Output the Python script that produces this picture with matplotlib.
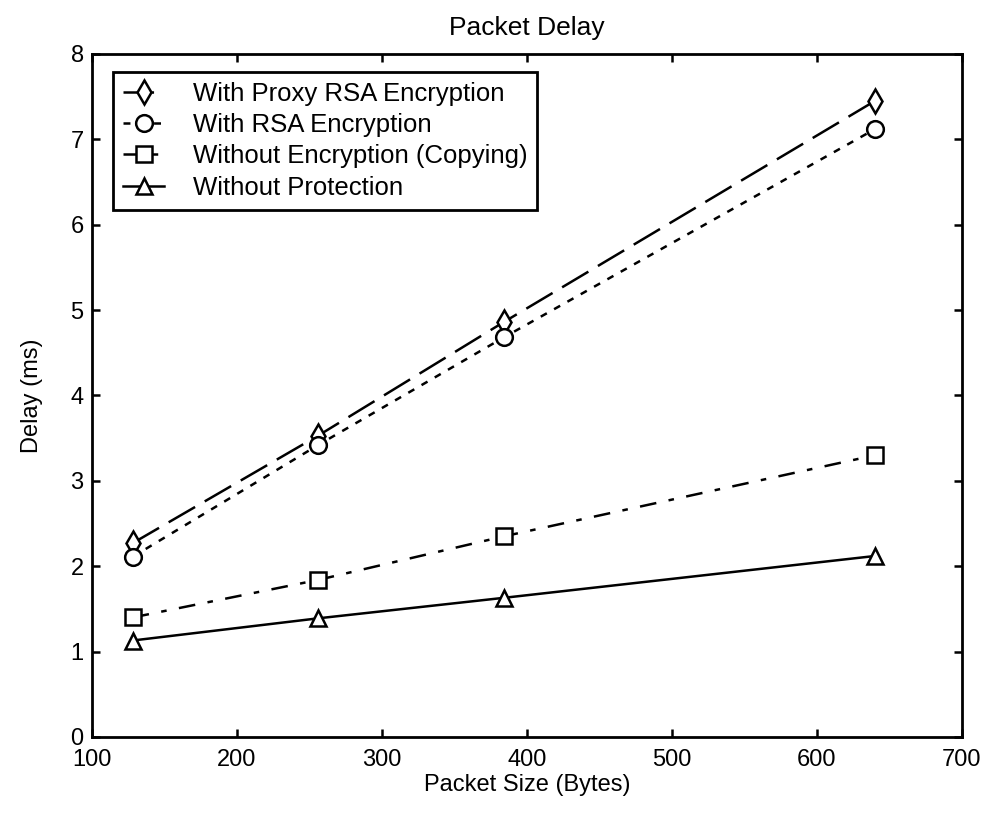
import matplotlib
matplotlib.use("Agg")
import matplotlib.pyplot as plt

plt.rcParams['font.family'] = ['Liberation Sans', 'DejaVu Sans']
plt.rcParams['lines.scale_dashes'] = False

packet_size = [128, 256, 384, 640]
proxy_rsa = [2.27, 3.53, 4.86, 7.45]
rsa = [2.11, 3.42, 4.68, 7.12]
copying = [1.40, 1.84, 2.35, 3.30]
no_protection = [1.13, 1.39, 1.63, 2.12]

labels = ["With Proxy RSA Encryption", "With RSA Encryption",
          "Without Encryption (Copying)", "Without Protection"]
x_ticks = [100, 200, 300, 400, 500, 600, 700]
y_ticks = [0, 1, 2, 3, 4, 5, 6, 7, 8]

fig = plt.figure(figsize=(9.84, 8.14), dpi=100)
ax = fig.add_axes([0.0935, 0.0946, 0.8841, 0.8391])

lw = 1.8
ms = 12
ax.plot(packet_size, proxy_rsa, color='black', lw=lw, linestyle=(0, (22, 8)),
        marker='d', ms=ms, mfc='white', mew=1.8, label=labels[0])
ax.plot(packet_size, rsa, color='black', lw=lw, linestyle=(0, (5, 6)),
        marker='o', ms=ms, mfc='white', mew=1.8, label=labels[1])
ax.plot(packet_size, copying, color='black', lw=lw, linestyle=(0, (12, 9, 4, 9)),
        marker='s', ms=ms, mfc='white', mew=1.8, label=labels[2])
ax.plot(packet_size, no_protection, color='black', lw=lw, linestyle='-',
        marker='^', ms=ms, mfc='white', mew=1.8, label=labels[3])

ax.set_xlim(100, 700)
ax.set_ylim(0, 8)
ax.set_xticks(x_ticks)
ax.set_yticks(y_ticks)
ax.tick_params(direction='in', length=6, width=1.8, labelsize=17,
               top=True, right=True)
ax.tick_params(axis='x', pad=9)
ax.tick_params(axis='y', pad=6)
for s in ax.spines.values():
    s.set_linewidth(2.0)

ax.set_title("Packet Delay", fontsize=19, pad=14)
ax.set_xlabel("Packet Size (Bytes)", fontsize=17, labelpad=2)
ax.set_ylabel("Delay (ms)", fontsize=17, labelpad=20)

leg = ax.legend(loc='upper left', bbox_to_anchor=(0.024, 0.974), fontsize=18.5,
                frameon=True, fancybox=False, edgecolor='black', framealpha=1,
                handlelength=1.6, handletextpad=1.1, borderpad=0.4,
                labelspacing=0.28, borderaxespad=0)
leg.get_frame().set_linewidth(2.0)

fig.savefig("out.png", dpi=100)
